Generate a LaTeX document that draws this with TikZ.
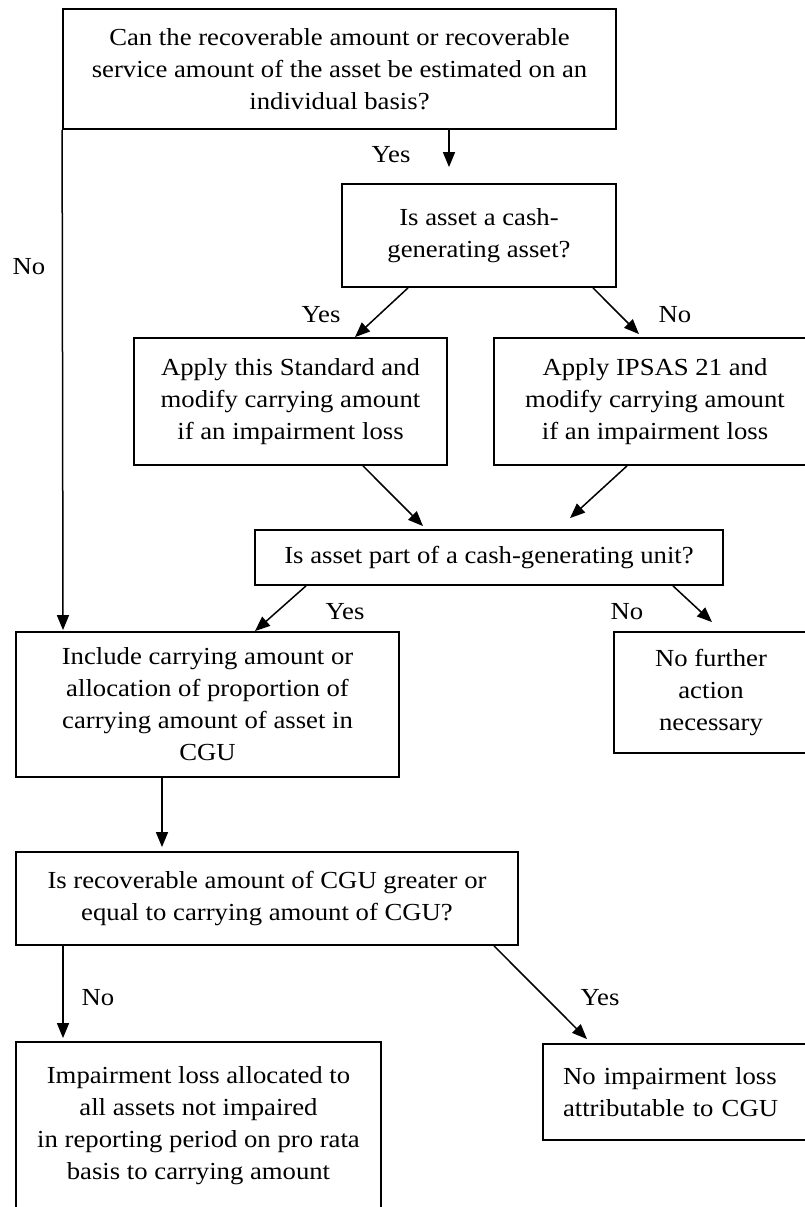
\documentclass[tikz,border=0pt]{standalone}
\usepackage{fontspec}
\setmainfont{Liberation Serif}[FakeStretch=1.09]
\usetikzlibrary{arrows.meta}

\tikzset{
    box/.style={draw, line width=1.8pt, inner sep=0pt, align=center},
    arr/.style={line width=1.5pt, -{Triangle[length=15pt,width=12pt]}},
    lbl/.style={inner sep=0pt}
}

\begin{document}
\begin{tikzpicture}[x=1pt, y=-1pt, font=\fontsize{24.5}{32}\selectfont]
    \useasboundingbox (0,0) rectangle (805,1207);
    \clip (0,0) rectangle (805,1207);
    % boxes
    \node[box, minimum width=553pt, minimum height=120pt] (q1) at (339.5,69)
        {Can the recoverable amount or recoverable\\ service amount of the asset be estimated on an\\ individual basis?};
    \node[box, minimum width=274pt, minimum height=103pt] (q2) at (479,235.5)
        {Is asset a cash-\\ generating asset?};
    \node[box, minimum width=313pt, minimum height=127pt] (a1) at (290.5,401.5)
        {Apply this Standard and\\ modify carrying amount\\ if an impairment loss};
    \node[box, minimum width=322pt, minimum height=127pt] (a2) at (655,401.5)
        {Apply IPSAS 21 and\\ modify carrying amount\\ if an impairment loss};
    \node[box, minimum width=468pt, minimum height=55pt] (q3) at (489,557.5)
        {Is asset part of a cash-generating unit?};
    \node[box, minimum width=383pt, minimum height=145pt] (inc) at (207.5,704.5)
        {Include carrying amount or\\ allocation of proportion of\\ carrying amount of asset in\\ CGU};
    \node[box, minimum width=194pt, minimum height=121pt] (nfa) at (711,692.5)
        {No further\\ action\\ necessary};
    \node[box, minimum width=502pt, minimum height=93pt] (q4) at (267,898.5)
        {Is recoverable amount of CGU greater or\\ equal to carrying amount of CGU?};
    \node[box, minimum width=365pt, minimum height=168pt] (imp) at (198.5,1126)
        {Impairment loss allocated to\\ all assets not impaired\\ in reporting period on pro rata\\ basis to carrying amount};
    \node[box, align=left, text width=225pt, inner xsep=20pt, minimum width=265pt, minimum height=96pt] (nil) at (675.5,1092)
        {No impairment loss\\ attributable to CGU};
    % labels
    \node[lbl] (y1) at (391,155) {Yes};
    \node[lbl] (n1) at (29,267) {No};
    \node[lbl] (y2) at (321,315) {Yes};
    \node[lbl] (n2) at (675,315) {No};
    \node[lbl] (y3) at (345,612) {Yes};
    \node[lbl] (n3) at (627,612) {No};
    \node[lbl] (n4) at (98,998) {No};
    \node[lbl] (y4) at (600,998) {Yes};
    % arrows
    \draw[arr] ([xshift=109.5pt]q1.south) -- ([xshift=-30pt,yshift=16pt]q2.north);
    \draw[arr] (q1.south west) -- ([xshift=-144.5pt,yshift=1pt]inc.north);
    \draw[arr] ([xshift=-71pt]q2.south) -- ([xshift=64.5pt]a1.north);
    \draw[arr] ([xshift=114pt]q2.south) -- ([xshift=-16pt,yshift=3pt]a2.north);
    \draw[arr] ([xshift=72.5pt]a1.south) -- ([xshift=-66pt,yshift=3pt]q3.north);
    \draw[arr] ([xshift=-28pt]a2.south) -- ([xshift=81pt,yshift=11pt]q3.north);
    \draw[arr] ([xshift=-183pt]q3.south) -- ([xshift=47.5pt]inc.north);
    \draw[arr] ([xshift=184pt]q3.south) -- ([xshift=1pt,yshift=9pt]nfa.north);
    \draw[arr] ([xshift=-45.5pt]inc.south) -- ([xshift=-105pt,yshift=4pt]q4.north);
    \draw[arr] ([xshift=-204pt]q4.south) -- ([xshift=-135.5pt,yshift=3pt]imp.north);
    \draw[arr] ([xshift=227pt]q4.south) -- ([xshift=-88.5pt,yshift=4pt]nil.north);
\end{tikzpicture}
\end{document}
